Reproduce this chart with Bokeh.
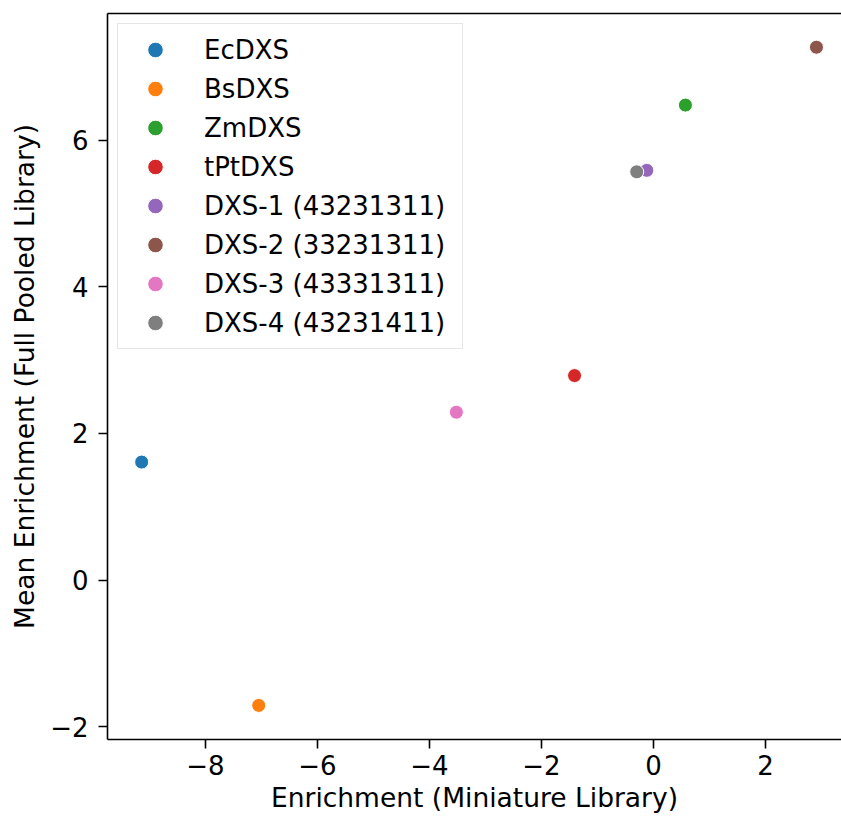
from bokeh.plotting import figure
from bokeh.models import Range1d, FixedTicker, LinearAxis, Legend, LegendItem, ColumnDataSource
from bokeh.embed import file_html
from bokeh.resources import INLINE

# ---- data ----
names = ["EcDXS", "BsDXS", "ZmDXS", "tPtDXS",
         "DXS-1 (43231311)", "DXS-2 (33231311)", "DXS-3 (43331311)", "DXS-4 (43231411)"]
x_mini = [-9.14, -7.05, 0.57, -1.41, -0.12, 2.91, -3.52, -0.30]
y_full = [1.61, -1.71, 6.48, 2.79, 5.59, 7.27, 2.29, 5.57]
colors = ["#1f77b4", "#ff7f0e", "#2ca02c", "#d62728",
          "#9467bd", "#8c564b", "#e377c2", "#7f7f7f"]
x_ticks = [-8, -6, -4, -2, 0, 2]
x_tick_labels = ["\u22128", "\u22126", "\u22124", "\u22122", "0", "2"]
y_ticks = [-2, 0, 2, 4, 6]
y_tick_labels = ["\u22122", "0", "2", "4", "6"]
x_label = "Enrichment (Miniature Library)"
y_label = "Mean Enrichment (Full Pooled Library)"

FONT = "DejaVu Sans"
TICK_FS = "26px"
LABEL_FS = "26.5px"

p = figure(width=841, height=818, output_backend="svg", toolbar_location=None,
           x_range=Range1d(-9.75, 3.357), y_range=Range1d(-2.175, 7.730),
           min_border_left=107, min_border_right=0, min_border_top=13, min_border_bottom=79)
p.outline_line_color = None
p.xgrid.visible = False
p.ygrid.visible = False
p.background_fill_color = "white"
p.border_fill_color = "white"

src = ColumnDataSource(dict(x=x_mini, y=y_full, name=names, color=colors))
r = p.scatter("x", "y", source=src, size=14, fill_color="color", line_color="white",
              line_width=1)

for ax, ticks, labels, standoff in ((p.xaxis[0], x_ticks, x_tick_labels, 6),
                                    (p.yaxis[0], y_ticks, y_tick_labels, 10)):
    ax.ticker = FixedTicker(ticks=ticks)
    ax.major_label_overrides = {t: l for t, l in zip(ticks, labels)}
    ax.major_label_text_font = FONT
    ax.major_label_text_font_size = TICK_FS
    ax.major_label_text_color = "black"
    ax.major_label_standoff = standoff
    ax.major_tick_out = 9
    ax.major_tick_in = 0
    ax.minor_tick_out = 0
    ax.minor_tick_in = 0
    ax.major_tick_line_width = 1.6
    ax.axis_line_width = 1.6
    ax.axis_line_color = "black"
    ax.major_tick_line_color = "black"
    ax.axis_label_text_font = FONT
    ax.axis_label_text_font_size = LABEL_FS
    ax.axis_label_text_font_style = "normal"
    ax.axis_label_text_color = "black"

p.xaxis.axis_label = x_label
p.yaxis.axis_label = y_label
p.xaxis.axis_label_standoff = 4
p.yaxis.axis_label_standoff = 7

top = LinearAxis(ticker=FixedTicker(ticks=[]), major_label_text_font_size="0px",
                 major_tick_out=0, major_tick_in=0, minor_tick_out=0, minor_tick_in=0,
                 major_label_standoff=0, axis_line_width=1.6, axis_line_color="black")
p.add_layout(top, "above")

items = [LegendItem(label=n, renderers=[r], index=i) for i, n in enumerate(names)]
legend = Legend(items=items, location=(10, 390), padding=6, spacing=0,
                glyph_height=39, glyph_width=62, label_standoff=18, label_width=252,
                label_text_font=FONT, label_text_font_size="26px", label_text_color="black",
                border_line_color="#cccccc", border_line_width=1.5,
                background_fill_color="white", background_fill_alpha=0.8, margin=0)
p.add_layout(legend)

open("out.html", "w").write(file_html(p, INLINE))
